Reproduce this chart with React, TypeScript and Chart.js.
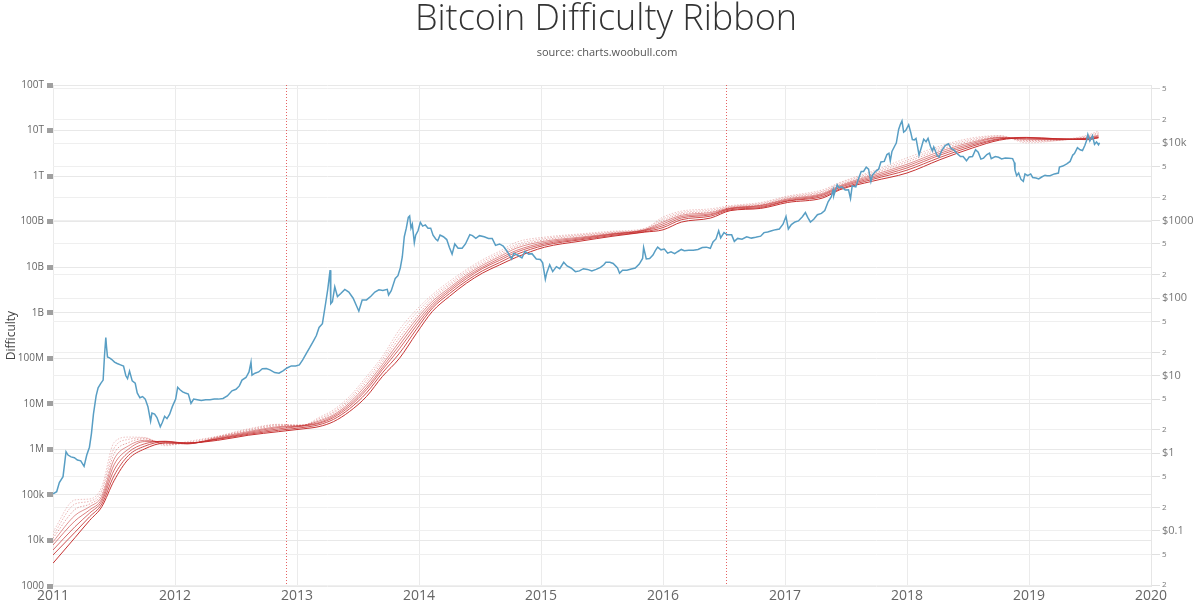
import React, { useEffect, useRef } from "react";
import { Chart, registerables } from "chart.js";

Chart.register(...registerables);

const TITLE = "Bitcoin Difficulty Ribbon";
const SUBTITLE = "source: charts.woobull.com";
const Y_TITLE = "Difficulty";

const yearTicks = [2011, 2012, 2013, 2014, 2015, 2016, 2017, 2018, 2019, 2020];
const difficultyTicks = [1e3, 1e4, 1e5, 1e6, 1e7, 1e8, 1e9, 1e10, 1e11, 1e12, 1e13, 1e14];
const difficultyTickLabels = ["1000", "10k", "100k", "1M", "10M", "100M", "1B", "10B", "100B", "1T", "10T", "100T"];
const priceTicks = [0.02, 0.05, 0.1, 0.2, 0.5, 1, 2, 5, 10, 20, 50, 100, 200, 500, 1000, 2000, 5000, 10000, 20000, 50000];
const priceTickLabels = ["2", "5", "$0.1", "2", "5", "$1", "2", "5", "$10", "2", "5", "$100", "2", "5", "$1000", "2", "5", "$10k", "2", "5"];
const halvingDates = ["2012-11-28", "2016-07-09"];

// BTC price (USD), right axis
const priceDates = [
  "2011-01-01","2011-01-12","2011-01-20","2011-01-31","2011-02-09","2011-02-15","2011-02-24","2011-03-06","2011-03-15","2011-03-25",
  "2011-04-04","2011-04-12","2011-04-20","2011-04-26","2011-05-02","2011-05-10","2011-05-16","2011-05-24","2011-05-31","2011-06-04",
  "2011-06-08","2011-06-10","2011-06-13","2011-06-19","2011-06-26","2011-07-04","2011-07-12","2011-07-22","2011-07-31","2011-08-07",
  "2011-08-12","2011-08-18","2011-08-26","2011-09-04","2011-09-10","2011-09-18","2011-09-26","2011-10-04","2011-10-12","2011-10-20",
  "2011-10-24","2011-11-01","2011-11-08","2011-11-18","2011-11-24","2011-12-01","2011-12-08","2011-12-16","2011-12-24",
  "2012-01-03","2012-01-09","2012-01-16","2012-01-24","2012-02-01","2012-02-10","2012-02-18","2012-02-26","2012-03-08","2012-03-20",
  "2012-04-02","2012-04-15","2012-04-28","2012-05-10","2012-05-24","2012-06-06","2012-06-20","2012-07-02","2012-07-12","2012-07-20",
  "2012-08-01","2012-08-10","2012-08-16","2012-08-19","2012-08-28","2012-09-08","2012-09-19","2012-10-01","2012-10-12","2012-10-26",
  "2012-11-08","2012-11-20","2012-12-02","2012-12-15","2012-12-28",
  "2013-01-08","2013-01-18","2013-01-29","2013-02-08","2013-02-19","2013-02-28","2013-03-08","2013-03-18","2013-03-28","2013-04-03",
  "2013-04-10","2013-04-12","2013-04-17","2013-04-24","2013-05-02","2013-05-12","2013-05-24","2013-06-05","2013-06-18","2013-07-05",
  "2013-07-15","2013-07-28","2013-08-10","2013-08-22","2013-09-03","2013-09-15","2013-09-28","2013-10-02","2013-10-10","2013-10-22",
  "2013-10-30","2013-11-06","2013-11-12","2013-11-18","2013-11-24","2013-11-30","2013-12-04","2013-12-08","2013-12-12","2013-12-18",
  "2013-12-22","2013-12-29",
  "2014-01-05","2014-01-12","2014-01-20","2014-01-28","2014-02-05","2014-02-12","2014-02-20","2014-02-26","2014-03-05","2014-03-15",
  "2014-03-25","2014-04-02","2014-04-10","2014-04-18","2014-04-28","2014-05-10","2014-05-20","2014-06-02","2014-06-10","2014-06-20",
  "2014-07-01","2014-07-15","2014-07-28","2014-08-08","2014-08-18","2014-08-30","2014-09-10","2014-09-22","2014-10-05","2014-10-12",
  "2014-10-25","2014-11-05","2014-11-14","2014-11-25","2014-12-05","2014-12-18","2014-12-30",
  "2015-01-06","2015-01-14","2015-01-18","2015-01-27","2015-02-05","2015-02-16","2015-02-26","2015-03-10","2015-03-20","2015-04-01",
  "2015-04-14","2015-04-26","2015-05-08","2015-05-20","2015-06-02","2015-06-15","2015-06-28","2015-07-08","2015-07-14","2015-07-26",
  "2015-08-05","2015-08-18","2015-08-24","2015-09-02","2015-09-15","2015-09-28","2015-10-10","2015-10-22","2015-11-01","2015-11-04",
  "2015-11-08","2015-11-12","2015-11-22","2015-12-02","2015-12-09","2015-12-16","2015-12-26",
  "2016-01-05","2016-01-15","2016-01-25","2016-02-05","2016-02-15","2016-02-25","2016-03-05","2016-03-18","2016-04-01","2016-04-15",
  "2016-04-28","2016-05-10","2016-05-22","2016-05-30","2016-06-08","2016-06-16","2016-06-22","2016-07-02","2016-07-12","2016-07-25",
  "2016-08-02","2016-08-12","2016-08-25","2016-09-08","2016-09-22","2016-10-05","2016-10-20","2016-10-30","2016-11-10","2016-11-22",
  "2016-12-04","2016-12-15","2016-12-26",
  "2017-01-04","2017-01-11","2017-01-20","2017-01-31","2017-02-10","2017-02-22","2017-03-03","2017-03-10","2017-03-18","2017-03-28",
  "2017-04-08","2017-04-20","2017-04-30","2017-05-10","2017-05-20","2017-05-25","2017-05-27","2017-06-06","2017-06-12","2017-06-20",
  "2017-06-30","2017-07-10","2017-07-16","2017-07-21","2017-08-01","2017-08-08","2017-08-17","2017-08-24","2017-09-01","2017-09-08",
  "2017-09-15","2017-09-20","2017-09-30","2017-10-08","2017-10-15","2017-10-25","2017-11-02","2017-11-08","2017-11-12","2017-11-17",
  "2017-11-26","2017-11-30","2017-12-07","2017-12-12","2017-12-17","2017-12-22","2017-12-28",
  "2018-01-06","2018-01-12","2018-01-17","2018-01-23","2018-01-28","2018-02-02","2018-02-06","2018-02-12","2018-02-20","2018-02-27",
  "2018-03-05","2018-03-12","2018-03-18","2018-03-22","2018-04-01","2018-04-07","2018-04-15","2018-04-25","2018-05-05","2018-05-13",
  "2018-05-22","2018-05-30","2018-06-10","2018-06-18","2018-06-28","2018-07-06","2018-07-16","2018-07-25","2018-08-02","2018-08-10",
  "2018-08-18","2018-08-28","2018-09-05","2018-09-10","2018-09-22","2018-10-02","2018-10-11","2018-10-22","2018-11-02","2018-11-13",
  "2018-11-18","2018-11-20","2018-11-25","2018-12-01","2018-12-08","2018-12-15","2018-12-20","2018-12-28",
  "2019-01-06","2019-01-12","2019-01-22","2019-01-30","2019-02-08","2019-02-18","2019-02-24","2019-03-05","2019-03-18","2019-03-30",
  "2019-04-02","2019-04-12","2019-04-24","2019-05-04","2019-05-12","2019-05-17","2019-05-26","2019-06-03","2019-06-10","2019-06-17",
  "2019-06-22","2019-06-26","2019-07-02","2019-07-10","2019-07-16","2019-07-22","2019-07-28","2019-07-31",
];
const priceValues = [
  0.30, 0.32, 0.42, 0.50, 1.05, 0.95, 0.90, 0.88, 0.82, 0.80,
  0.68, 0.95, 1.20, 1.80, 3.20, 5.50, 7.00, 8.00, 8.80, 18.0,
  31.0, 24.0, 17.5, 17.0, 16.2, 15.0, 14.4, 13.8, 13.3, 10.0,
  9.2, 11.5, 8.6, 8.0, 6.0, 5.2, 5.4, 5.0, 4.0, 2.6,
  3.3, 3.2, 2.9, 2.2, 2.5, 3.0, 2.8, 3.2, 4.0,
  5.0, 7.1, 6.6, 6.2, 6.0, 5.8, 4.4, 5.0, 4.9, 4.8,
  4.9, 4.9, 5.0, 5.0, 5.1, 5.5, 6.4, 6.7, 7.4, 8.8,
  9.5, 11.2, 15.0, 10.2, 10.8, 11.2, 12.3, 12.4, 11.9, 11.0,
  10.8, 11.6, 12.6, 13.4, 13.4,
  13.8, 16.0, 19.5, 23.0, 28.0, 33.0, 42, 47, 88, 130,
  230, 85, 90, 140, 105, 115, 130, 120, 100, 68,
  95, 95, 106, 120, 128, 126, 130, 110, 125, 180,
  195, 245, 340, 620, 800, 1100, 1150, 800, 900, 520,
  650, 740,
  950, 850, 880, 800, 800, 650, 580, 550, 650, 620,
  570, 450, 370, 500, 440, 440, 500, 660, 640, 590,
  640, 620, 590, 590, 480, 500, 470, 400, 320, 380,
  355, 330, 400, 370, 375, 320, 315,
  285, 175, 210, 270, 220, 255, 240, 290, 260, 245,
  220, 225, 240, 235, 225, 235, 250, 270, 290, 290,
  280, 245, 210, 230, 230, 238, 245, 275, 325, 450,
  380, 320, 325, 360, 410, 455, 420,
  430, 380, 395, 375, 400, 425, 410, 415, 415, 425,
  450, 455, 440, 530, 580, 740, 600, 700, 655, 655,
  540, 590, 575, 620, 595, 610, 630, 700, 715, 740,
  765, 780, 900,
  1130, 780, 890, 960, 990, 1120, 1270, 1100, 960, 1040,
  1190, 1240, 1350, 1750, 2050, 2500, 2100, 2900, 2650, 2720,
  2480, 2500, 1930, 2800, 2730, 3400, 4300, 4300, 4900, 4600,
  3200, 3900, 4350, 4600, 5700, 5800, 7100, 7400, 5900, 7800,
  9300, 10000, 15000, 17300, 19300, 13800, 14500,
  17200, 13800, 11100, 11000, 11500, 8800, 7000, 8500, 11200, 10400,
  11500, 9100, 7900, 8900, 6900, 6600, 8000, 9300, 9800, 8500,
  8100, 7400, 6700, 6700, 5900, 6600, 6700, 8200, 7600, 6200,
  6400, 7100, 7400, 6300, 6700, 6550, 6250, 6400, 6350, 6300,
  5600, 4500, 3800, 4100, 3400, 3200, 4000, 3800,
  4000, 3600, 3550, 3450, 3650, 3850, 3800, 3800, 4000, 4100,
  4900, 5050, 5400, 5800, 7000, 7300, 8700, 8200, 8000, 9300,
  10700, 12900, 10600, 12400, 9600, 10300, 9500, 10100,
];

// Difficulty ribbon (moving averages of difficulty), left axis
const ribbonYears = [
  2011.0, 2011.18, 2011.3, 2011.4, 2011.5, 2011.62, 2011.75, 2011.92, 2012.1, 2012.35,
  2012.6, 2012.85, 2013.05, 2013.18, 2013.3, 2013.43, 2013.57, 2013.7, 2013.84, 2013.98,
  2014.11, 2014.25, 2014.39, 2014.52, 2014.66, 2014.8, 2015.03, 2015.32, 2015.59, 2015.85,
  2016.0, 2016.15, 2016.39, 2016.55, 2016.8, 2017.02, 2017.31, 2017.45, 2017.72, 2018.0,
  2018.27, 2018.54, 2018.76, 2018.98, 2019.23, 2019.48, 2019.57,
];
const ribbonMa9 = [
  1.55e4, 7.76e4, 8.13e4, 1.51e5, 1.41e6, 1.86e6, 1.82e6, 1.20e6, 1.48e6, 1.95e6,
  2.82e6, 3.55e6, 3.39e6, 5.01e6, 7.41e6, 1.45e7, 3.98e7, 1.10e8, 4.27e8, 1.17e9,
  2.51e9, 4.90e9, 8.91e9, 1.45e10, 2.24e10, 3.55e10, 4.57e10, 5.37e10, 6.17e10, 7.08e10,
  1.26e11, 1.70e11, 1.91e11, 2.24e11, 2.63e11, 3.63e11, 5.01e11, 7.24e11, 1.29e12, 2.51e12,
  4.57e12, 6.92e12, 7.76e12, 5.37e12, 6.03e12, 7.94e12, 9.77e12,
];
const ribbonMa14 = [
  1.29e4, 6.31e4, 7.24e4, 1.26e5, 1.05e6, 1.66e6, 1.78e6, 1.26e6, 1.41e6, 1.91e6,
  2.69e6, 3.47e6, 3.39e6, 4.68e6, 6.76e6, 1.29e7, 3.47e7, 9.55e7, 3.47e8, 1.00e9,
  2.24e9, 4.37e9, 8.13e9, 1.32e10, 2.04e10, 3.16e10, 4.27e10, 5.13e10, 5.89e10, 6.92e10,
  1.15e11, 1.58e11, 1.78e11, 2.14e11, 2.51e11, 3.47e11, 4.68e11, 6.92e11, 1.20e12, 2.24e12,
  4.17e12, 6.46e12, 7.59e12, 5.75e12, 6.03e12, 7.59e12, 9.12e12,
];
const ribbonMa25 = [
  1.12e4, 4.79e4, 6.31e4, 1.07e5, 7.94e5, 1.41e6, 1.70e6, 1.32e6, 1.35e6, 1.86e6,
  2.57e6, 3.31e6, 3.39e6, 4.37e6, 6.31e6, 1.17e7, 3.02e7, 8.32e7, 2.82e8, 8.32e8,
  2.00e9, 3.98e9, 7.41e9, 1.20e10, 1.86e10, 2.88e10, 3.98e10, 4.90e10, 5.75e10, 6.76e10,
  1.05e11, 1.48e11, 1.66e11, 2.09e11, 2.40e11, 3.31e11, 4.47e11, 6.46e11, 1.12e12, 2.04e12,
  3.80e12, 6.03e12, 7.24e12, 6.03e12, 6.17e12, 7.24e12, 8.51e12,
];
const ribbonMa40 = [
  9.33e3, 3.55e4, 5.50e4, 9.33e4, 6.03e5, 1.20e6, 1.58e6, 1.41e6, 1.32e6, 1.82e6,
  2.45e6, 3.16e6, 3.39e6, 4.17e6, 5.75e6, 1.05e7, 2.63e7, 7.24e7, 2.34e8, 7.24e8,
  1.78e9, 3.55e9, 6.76e9, 1.10e10, 1.70e10, 2.63e10, 3.72e10, 4.57e10, 5.50e10, 6.61e10,
  9.77e10, 1.38e11, 1.58e11, 2.00e11, 2.29e11, 3.16e11, 4.17e11, 6.17e11, 1.05e12, 1.82e12,
  3.47e12, 5.62e12, 7.08e12, 6.31e12, 6.31e12, 6.92e12, 7.94e12,
];
const ribbonMa60 = [
  7.94e3, 2.69e4, 4.68e4, 8.13e4, 4.57e5, 1.02e6, 1.48e6, 1.48e6, 1.32e6, 1.74e6,
  2.34e6, 3.02e6, 3.31e6, 3.89e6, 5.37e6, 9.55e6, 2.29e7, 6.31e7, 1.95e8, 6.17e8,
  1.58e9, 3.24e9, 6.17e9, 1.00e10, 1.55e10, 2.34e10, 3.47e10, 4.37e10, 5.37e10, 6.46e10,
  8.91e10, 1.29e11, 1.48e11, 1.95e11, 2.24e11, 3.02e11, 3.98e11, 5.89e11, 9.77e11, 1.66e12,
  3.16e12, 5.25e12, 6.92e12, 6.61e12, 6.31e12, 6.76e12, 7.59e12,
];
const ribbonMa90 = [
  6.17e3, 2.00e4, 3.98e4, 7.24e4, 3.47e5, 8.71e5, 1.32e6, 1.51e6, 1.35e6, 1.70e6,
  2.24e6, 2.82e6, 3.24e6, 3.72e6, 5.01e6, 8.71e6, 2.04e7, 5.62e7, 1.62e8, 5.25e8,
  1.41e9, 2.95e9, 5.62e9, 9.33e9, 1.41e10, 2.14e10, 3.24e10, 4.17e10, 5.25e10, 6.31e10,
  8.13e10, 1.20e11, 1.41e11, 1.91e11, 2.14e11, 2.88e11, 3.80e11, 5.62e11, 9.12e11, 1.51e12,
  2.88e12, 4.90e12, 6.61e12, 6.92e12, 6.46e12, 6.61e12, 7.24e12,
];
const ribbonMa128 = [
  4.79e3, 1.51e4, 3.31e4, 6.31e4, 2.63e5, 7.41e5, 1.17e6, 1.48e6, 1.38e6, 1.66e6,
  2.14e6, 2.63e6, 3.02e6, 3.47e6, 4.57e6, 7.76e6, 1.74e7, 4.79e7, 1.29e8, 4.37e8,
  1.26e9, 2.63e9, 5.01e9, 8.32e9, 1.26e10, 1.91e10, 3.02e10, 3.98e10, 5.01e10, 6.03e10,
  7.41e10, 1.10e11, 1.32e11, 1.82e11, 2.04e11, 2.82e11, 3.55e11, 5.25e11, 8.51e11, 1.35e12,
  2.57e12, 4.57e12, 6.46e12, 7.08e12, 6.61e12, 6.46e12, 7.08e12,
];
const ribbonMa200 = [
  3.16e3, 1.15e4, 2.75e4, 5.50e4, 2.04e5, 6.17e5, 1.02e6, 1.38e6, 1.38e6, 1.58e6,
  2.04e6, 2.45e6, 2.82e6, 3.16e6, 4.07e6, 6.76e6, 1.45e7, 3.98e7, 1.00e8, 3.55e8,
  1.07e9, 2.29e9, 4.47e9, 7.41e9, 1.12e10, 1.66e10, 2.75e10, 3.72e10, 4.79e10, 5.89e10,
  6.61e10, 9.77e10, 1.20e11, 1.74e11, 1.95e11, 2.63e11, 3.31e11, 5.01e11, 7.76e11, 1.17e12,
  2.29e12, 4.17e12, 6.17e12, 6.92e12, 6.61e12, 6.31e12, 6.92e12,
];
const ribbonSeries = [ribbonMa9, ribbonMa14, ribbonMa25, ribbonMa40, ribbonMa60, ribbonMa90, ribbonMa128, ribbonMa200];
const ribbonNames = ["MA 9", "MA 14", "MA 25", "MA 40", "MA 60", "MA 90", "MA 128", "MA 200"];
const ribbonAlphas = [0.28, 0.34, 0.42, 0.5, 0.6, 0.7, 0.82, 0.95];

function toYear(s: string): number {
  const d = new Date(s + "T00:00:00Z");
  const y = d.getUTCFullYear();
  const start = Date.UTC(y, 0, 1);
  const end = Date.UTC(y + 1, 0, 1);
  return y + (d.getTime() - start) / (end - start);
}

const FONT = '"Open Sans", "DejaVu Sans", sans-serif';

const overlayPlugin = {
  id: "overlay",
  beforeDatasetsDraw(chart: any) {
    const { ctx, chartArea, scales } = chart;
    ctx.save();
    ctx.strokeStyle = "rgba(225,70,70,0.85)";
    ctx.lineWidth = 1;
    ctx.setLineDash([1, 2]);
    halvingDates.forEach((d) => {
      const x = Math.round(scales.x.getPixelForValue(toYear(d))) + 0.5;
      ctx.beginPath();
      ctx.moveTo(x, chartArea.top);
      ctx.lineTo(x, chartArea.bottom);
      ctx.stroke();
    });
    ctx.restore();
  },
  afterDraw(chart: any) {
    const { ctx, chartArea } = chart;
    ctx.save();
    ctx.textAlign = "center";
    ctx.textBaseline = "alphabetic";
    ctx.fillStyle = "#333";
    ctx.font = `300 36px ${FONT}`;
    ctx.fillText(TITLE, 606, 30);
    ctx.fillStyle = "#555";
    ctx.font = `11px ${FONT}`;
    ctx.fillText(SUBTITLE, 607, 56);
    ctx.translate(12, (chartArea.top + chartArea.bottom) / 2);
    ctx.rotate(-Math.PI / 2);
    ctx.textBaseline = "middle";
    ctx.fillStyle = "#444";
    ctx.font = `12px ${FONT}`;
    ctx.fillText(Y_TITLE, 0, 0);
    ctx.restore();
  },
};

export default function App() {
  const canvasRef = useRef<HTMLCanvasElement | null>(null);

  useEffect(() => {
    const canvas = canvasRef.current;
    if (!canvas) return;

    const ribbonDatasets = ribbonSeries.map((series, k) => ({
      label: ribbonNames[k],
      data: series.map((v, i) => ({ x: ribbonYears[i], y: v })),
      yAxisID: "y",
      borderColor: `rgba(195,40,40,${ribbonAlphas[k]})`,
      borderWidth: 1,
      borderDash: k < 3 ? [1.5, 1.5] : [],
      pointRadius: 0,
      fill: false,
      cubicInterpolationMode: "monotone" as const,
      order: 1,
    }));

    const priceDataset = {
      label: "BTC Price",
      data: priceDates.map((d, i) => ({ x: toYear(d), y: priceValues[i] })),
      yAxisID: "y1",
      borderColor: "rgb(88,158,196)",
      borderWidth: 1.5,
      pointRadius: 0,
      fill: false,
      tension: 0,
      order: 0,
    };

    const chart = new Chart(canvas, {
      type: "line",
      data: { datasets: [priceDataset, ...ribbonDatasets] as any },
      options: {
        animation: false,
        responsive: false,
        devicePixelRatio: 1,
        layout: { padding: { top: 85, left: 0, right: 0, bottom: 0 } },
        plugins: {
          legend: { display: false },
          tooltip: { enabled: false },
          title: { display: false },
        },
        scales: {
          x: {
            type: "linear",
            min: 2011,
            max: 2020,
            afterBuildTicks: (scale: any) => {
              scale.ticks = yearTicks.map((v) => ({ value: v }));
            },
            afterFit: (scale: any) => {
              scale.height = 24;
            },
            ticks: {
              autoSkip: false,
              maxRotation: 0,
              padding: 2,
              color: "#666",
              font: { family: FONT, size: 14 },
              callback: (v: any) => String(v),
            },
            grid: { color: "#ebebeb", lineWidth: 1, drawTicks: false },
            border: { display: false },
          },
          y: {
            type: "logarithmic",
            position: "left",
            min: 1e3,
            max: 1e14,
            afterBuildTicks: (scale: any) => {
              scale.ticks = difficultyTicks.map((v) => ({ value: v }));
            },
            afterFit: (scale: any) => {
              scale.width = 53;
            },
            ticks: {
              autoSkip: false,
              padding: 3,
              color: "#666",
              font: { family: FONT, size: 10 },
              callback: (_v: any, i: number) => difficultyTickLabels[i],
            },
            grid: {
              color: "#e8e8e8",
              lineWidth: 1,
              drawTicks: true,
              tickLength: 6,
              tickWidth: 5,
              tickColor: "#a0a0a0",
            },
            border: { display: false },
          },
          y1: {
            type: "logarithmic",
            position: "right",
            min: 0.0195,
            max: 56000,
            afterBuildTicks: (scale: any) => {
              scale.ticks = priceTicks.map((v) => ({ value: v }));
            },
            afterFit: (scale: any) => {
              scale.width = 49;
            },
            ticks: {
              autoSkip: false,
              padding: 2,
              color: "#777",
              font: (ctx: any) => ({
                family: FONT,
                size: String(priceTickLabels[ctx.index] || "").startsWith("$") ? 11 : 8,
              }),
              callback: (_v: any, i: number) => priceTickLabels[i],
            },
            grid: {
              color: "#efefef",
              lineWidth: 1,
              drawTicks: true,
              tickLength: 9,
              tickColor: "#e0e0e0",
            },
            border: { display: true, color: "#e6e6e6" },
          },
        },
      },
      plugins: [overlayPlugin],
    });

    return () => chart.destroy();
  }, []);

  return (
    <div style={{ position: "fixed", left: 0, top: 0, width: 1200, height: 610, background: "#fff" }}>
      <canvas ref={canvasRef} width={1200} height={610} />
    </div>
  );
}
